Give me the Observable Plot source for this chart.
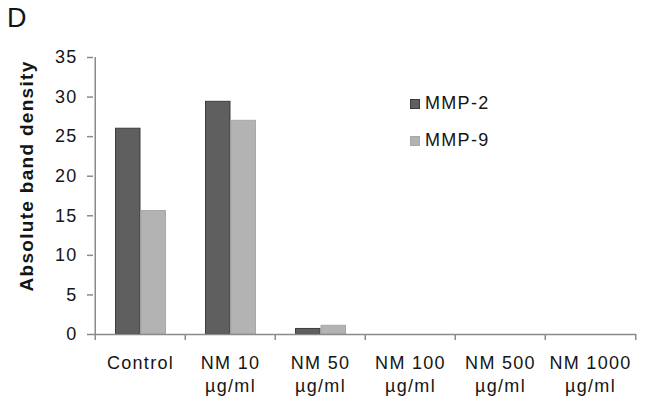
<!DOCTYPE html>
<html>
<head>
<meta charset="utf-8">
<script src="https://cdn.jsdelivr.net/npm/d3@7"></script>
<script src="https://cdn.jsdelivr.net/npm/@observablehq/plot@0.6"></script>
<style>
  body { margin: 0; background: #fff; }
  #wrap { position: relative; width: 646px; height: 404px; font-family: "Liberation Sans", Arial, sans-serif; color: #151515; }
  #panel { position: absolute; left: 7px; top: 3px; font-size: 27px; line-height: normal; }
  .leg { position: absolute; left: 410px; font-size: 18px; letter-spacing: 1.3px; display: flex; align-items: center; }
  .sw { width: 10px; height: 10px; margin-right: 5px; box-sizing: border-box; }
</style>
</head>
<body>
<div id="wrap">
  <div id="panel">D</div>
  <div id="chart"></div>
</div>
<script>
const categories = ["Control", "NM 10", "NM 50", "NM 100", "NM 500", "NM 1000"];
const tickLabels = ["Control", "NM 10\nµg/ml", "NM 50\nµg/ml", "NM 100\nµg/ml", "NM 500\nµg/ml", "NM 1000\nµg/ml"];
const mmp2 = [26.0, 29.4, 0.7, 0, 0, 0];
const mmp9 = [15.6, 27.0, 1.1, 0, 0, 0];
const series = ["MMP-2", "MMP-9"];
const yTicks = [0, 5, 10, 15, 20, 25, 30, 35];
const yLabel = "Absolute band density";

const colors = {"MMP-2": {fill: "#5f5f5f", stroke: "#3d3d3d"}, "MMP-9": {fill: "#b3b3b3", stroke: "#a8a8a8"}};

const W = 646, H = 404, mL = 93, mR = 10, mT = 57, mB = 70;
const bw = (W - mL - mR) / categories.length;

const rows2 = categories.map((c, i) => ({cat: c, value: mmp2[i]}));
const rows9 = categories.map((c, i) => ({cat: c, value: mmp9[i]}));

const axisColor = "#8a8a8a";
const labelOf = Object.fromEntries(categories.map((c, i) => [c, tickLabels[i]]));

const plot = Plot.plot({
  width: W, height: H,
  marginLeft: mL, marginRight: mR, marginTop: mT, marginBottom: mB,
  style: {fontFamily: "'Liberation Sans', Arial, sans-serif", fontSize: "18px", color: "#151515", letterSpacing: "1.3px", background: "#fff"},
  x: {domain: categories, padding: 0, axis: null},
  y: {domain: [0, 35], axis: null},
  marks: [
    Plot.barY(rows2, {filter: d => d.value > 0, x: "cat", y: "value", fill: colors["MMP-2"].fill, stroke: colors["MMP-2"].stroke, strokeWidth: 1, insetLeft: 20.5, insetRight: bw - 45.5}),
    Plot.barY(rows9, {filter: d => d.value > 0, x: "cat", y: "value", fill: colors["MMP-9"].fill, stroke: colors["MMP-9"].stroke, strokeWidth: 1, insetLeft: 46, insetRight: bw - 71}),
    Plot.ruleY([0], {stroke: axisColor, strokeWidth: 1.5}),
    Plot.ruleX([categories[0]], {dx: -bw / 2, y1: 0, y2: 35, stroke: axisColor, strokeWidth: 1.5}),
    Plot.axisY({ticks: yTicks, tickSize: 6, tickPadding: 10, label: null, stroke: axisColor, strokeWidth: 1.5, color: "#151515"}),
    Plot.axisX({tickSize: 6, tickFormat: () => "", label: null, dx: -bw / 2, stroke: axisColor, strokeWidth: 1.5}),
    Plot.axisX([categories[categories.length - 1]], {tickSize: 6, tickFormat: () => "", label: null, dx: bw / 2, stroke: axisColor, strokeWidth: 1.5}),
    Plot.axisX({tickSize: 0, tickPadding: 18, tickFormat: d => labelOf[d], lineHeight: 1.27, label: null, fill: "#151515"}),
    Plot.text([yLabel], {text: d => d, frameAnchor: "left", textAnchor: "middle", rotate: -90, dx: -67, dy: -20, fontSize: 19, fontWeight: "bold", fill: "#151515", letterSpacing: "1px"})
  ]
});
document.getElementById("chart").appendChild(plot);

// legend
const wrap = document.getElementById("wrap");
const legTops = [93, 130];
series.forEach((s, i) => {
  const el = document.createElement("div");
  el.className = "leg";
  el.style.top = legTops[i] + "px";
  const sw = document.createElement("div");
  sw.className = "sw";
  sw.style.background = colors[s].fill;
  sw.style.border = "1px solid " + colors[s].stroke;
  const t = document.createElement("span");
  t.textContent = s;
  el.appendChild(sw); el.appendChild(t);
  wrap.appendChild(el);
});
</script>
</body>
</html>
